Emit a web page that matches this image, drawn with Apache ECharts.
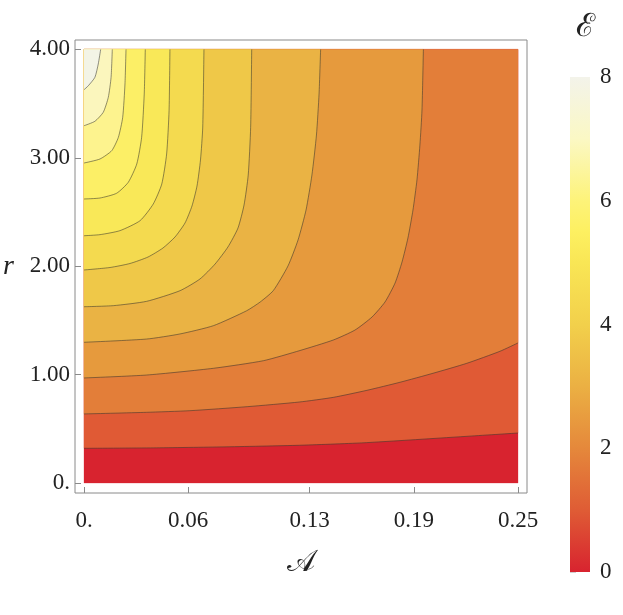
<!DOCTYPE html>
<html>
<head>
<meta charset="utf-8">
<script src="https://cdn.jsdelivr.net/npm/echarts@6/dist/echarts.min.js"></script>
<style>
  html, body { margin: 0; padding: 0; background: #fff; }
  #chart { width: 623px; height: 615px; }
</style>
</head>
<body>
<div id="chart"></div>
<script>
// tick labels
const xTicks = [0, 0.06, 0.13, 0.19, 0.25]
const xTickLabels = ['0.', '0.06', '0.13', '0.19', '0.25']
const yTicks = [0, 1, 2, 3, 4]
const yTickLabels = ['0.', '1.00', '2.00', '3.00', '4.00']

// contour levels (E): 12 bands from 0 to 8
const levels = [0.667, 1.333, 2, 2.667, 3.333, 4, 4.667, 5.333, 6, 6.667, 7.333]

// contour lines, [A, r] points, from the left edge to the top / right edge
const c1 = [[0, 0.320], [0.04, 0.324], [0.08, 0.333], [0.124, 0.348], [0.16, 0.37], [0.188, 0.397], [0.22, 0.43], [0.25, 0.461]]
const c2 = [[0, 0.637], [0.036, 0.652], [0.061, 0.667], [0.094, 0.704], [0.124, 0.747], [0.1436, 0.79], [0.163, 0.855], [0.182, 0.929], [0.201, 1.012], [0.2205, 1.104], [0.2396, 1.215], [0.25, 1.292]]
const c3 = [[0, 0.969], [0.0361, 0.996], [0.0745, 1.058], [0.1033, 1.128], [0.1244, 1.222], [0.1436, 1.319], [0.1561, 1.411], [0.1659, 1.531], [0.1734, 1.67], [0.1792, 1.845], [0.1832, 2.039], [0.1866, 2.26], [0.1895, 2.518], [0.1918, 2.795], [0.1935, 3.118], [0.1947, 3.441], [0.1955, 4]]
const c4 = [[0, 1.298], [0.0361, 1.328], [0.0553, 1.375], [0.0745, 1.451], [0.0937, 1.589], [0.1015, 1.67], [0.109, 1.774], [0.1175, 2.002], [0.1233, 2.242], [0.1279, 2.518], [0.1313, 2.841], [0.1339, 3.21], [0.1354, 3.589], [0.1363, 4]]
const c5 = [[0, 1.626], [0.0169, 1.636], [0.0361, 1.676], [0.0553, 1.774], [0.0668, 1.882], [0.0755, 2.02], [0.0829, 2.177], [0.0887, 2.352], [0.0922, 2.565], [0.0946, 2.841], [0.096, 3.281], [0.0966, 4]]
const c6 = [[0, 1.965], [0.015, 1.988], [0.0265, 2.025], [0.0369, 2.085], [0.0455, 2.168], [0.0524, 2.269], [0.0582, 2.399], [0.0622, 2.555], [0.0651, 2.74], [0.0671, 2.98], [0.0684, 3.284], [0.0691, 4]]
const c7 = [[0, 2.281], [0.0092, 2.291], [0.0207, 2.328], [0.0323, 2.42], [0.0399, 2.574], [0.0448, 2.758], [0.0476, 3.035], [0.049, 3.435], [0.0495, 4]]
const c8 = [[0, 2.62], [0.0092, 2.629], [0.0188, 2.673], [0.0255, 2.774], [0.0304, 2.943], [0.0332, 3.189], [0.0347, 3.589], [0.0353, 4]]
const c9 = [[0, 2.952], [0.0092, 2.989], [0.016, 3.066], [0.0198, 3.189], [0.0223, 3.374], [0.0236, 3.681], [0.0242, 4]]
const c10 = [[0, 3.296], [0.0063, 3.337], [0.0111, 3.42], [0.014, 3.558], [0.0156, 3.743], [0.0163, 4]]
const c11 = [[0, 3.628], [0.0025, 3.665], [0.0063, 3.743], [0.0082, 3.865], [0.0096, 4]]
const contours = [c1, c2, c3, c4, c5, c6, c7, c8, c9, c10, c11]

const bandColors = ['#d8232f', '#e05a35', '#e37e39', '#e69a3d', '#eab344', '#efc848',
  '#f4da4f', '#f9e858', '#fcef66', '#fdf38e', '#fbf6bd', '#f3f4e6']

// colour bar
const barMin = 0
const barMax = 8
const barStops = [
  [0, '#d8232f'], [1, '#df5c35'], [2, '#e5883b'], [3, '#ebb043'], [4, '#f2d04b'],
  [5, '#f9e655'], [5.5, '#fdf061'], [6, '#fdf379'], [7, '#fbf8c4'], [8, '#f3f3ea']
]

const A_MAX = 0.25
const R_MAX = 4
const font = '"Liberation Serif", "DejaVu Serif", serif'
const frameColor = '#8a8a8a'

const chart = echarts.init(document.getElementById('chart'), null, { renderer: 'canvas' })

const bandSeries = {
  type: 'custom',
  xAxisIndex: 0,
  yAxisIndex: 0,
  silent: true,
  data: bandColors.map((c, i) => [i]),
  renderItem: (params, api) => {
    const k = api.value(0)
    let pts
    if (k === 0) {
      pts = [[0, 0], [A_MAX, 0], [A_MAX, R_MAX], [0, R_MAX]]
    } else {
      const c = contours[k - 1]
      pts = c.slice()
      if (c[c.length - 1][0] >= A_MAX) pts.push([A_MAX, R_MAX])
      pts.push([0, R_MAX])
    }
    return {
      type: 'polygon',
      shape: { points: pts.map(p => api.coord(p)) },
      style: { fill: bandColors[k], stroke: bandColors[k], lineWidth: 0.3 }
    }
  }
}

const lineSeries = contours.map((c, i) => ({
  type: 'line',
  name: 'E=' + levels[i],
  xAxisIndex: 0,
  yAxisIndex: 0,
  data: c,
  showSymbol: false,
  silent: true,
  smooth: 0.2,
  lineStyle: { color: 'rgba(45,45,45,0.65)', width: 0.8 },
  z: 3
}))

const barSeries = {
  type: 'custom',
  xAxisIndex: 1,
  yAxisIndex: 1,
  silent: true,
  data: [[0]],
  renderItem: (params, api) => {
    const p0 = api.coord([0, barMax])
    const p1 = api.coord([1, barMin])
    return {
      type: 'rect',
      shape: { x: p0[0], y: p0[1], width: p1[0] - p0[0], height: p1[1] - p0[1] },
      style: {
        fill: new echarts.graphic.LinearGradient(0, 1, 0, 0,
          barStops.map(s => ({ offset: (s[0] - barMin) / (barMax - barMin), color: s[1] })))
      }
    }
  }
}

const option = {
  backgroundColor: '#fff',
  animation: false,
  grid: [
    { left: 75, right: 96, top: 40, bottom: 122, show: true, borderColor: frameColor, borderWidth: 1,
      backgroundColor: 'transparent', containLabel: false, outerBoundsMode: 'none' },
    { left: 570, width: 20, top: 77, height: 495, show: false, containLabel: false, outerBoundsMode: 'none' }
  ],
  xAxis: [
    {
      type: 'value', gridIndex: 0, position: 'bottom',
      min: -9 / 1736, max: A_MAX + 9 / 1736,
      axisLine: { show: false, onZero: false },
      splitLine: { show: false },
      axisTick: { show: true, inside: true, length: 6, customValues: xTicks, lineStyle: { color: frameColor } },
      axisLabel: {
        customValues: xTicks, margin: 16, color: '#222', fontFamily: font, fontSize: 23,
        formatter: v => xTickLabels[xTicks.indexOf(v)] ?? ''
      },
      name: '𝒜', nameLocation: 'middle', nameGap: 55,
      nameTextStyle: { fontFamily: '"DejaVu Serif", serif', fontSize: 30, color: '#222' }
    },
    { type: 'value', gridIndex: 1, min: 0, max: 1, show: false }
  ],
  yAxis: [
    {
      type: 'value', gridIndex: 0, position: 'left',
      min: -10 / 108.4, max: 443 / 108.4,
      axisLine: { show: false, onZero: false },
      splitLine: { show: false },
      axisTick: { show: true, inside: true, length: 6, customValues: yTicks, lineStyle: { color: frameColor } },
      axisLabel: {
        customValues: yTicks, margin: 5, color: '#222', fontFamily: font, fontSize: 23,
        formatter: v => yTickLabels[yTicks.indexOf(v)] ?? ''
      },
      name: 'r', nameLocation: 'middle', nameGap: 61, nameRotate: 0,
      nameTextStyle: { fontFamily: font, fontStyle: 'italic', fontSize: 28, color: '#222' }
    },
    {
      type: 'value', gridIndex: 1, position: 'right',
      min: barMin, max: barMax, interval: 2,
      axisLine: { show: false },
      splitLine: { show: false },
      axisTick: { show: true, length: 6, lineStyle: { color: '#cfcfcf' } },
      minorTick: { show: true, splitNumber: 4, length: 4, lineStyle: { color: '#dcdcdc' } },
      axisLabel: { margin: 10, color: '#222', fontFamily: font, fontSize: 23 }
    }
  ],
  graphic: [
    { type: 'text', left: 576, top: 12, silent: true,
      style: { text: 'ℰ', fontFamily: '"DejaVu Serif", serif', fontSize: 32, fill: '#222' } }
  ],
  series: [bandSeries, ...lineSeries, barSeries]
}

chart.setOption(option)
window.addEventListener('resize', () => chart.resize())
</script>
</body>
</html>
